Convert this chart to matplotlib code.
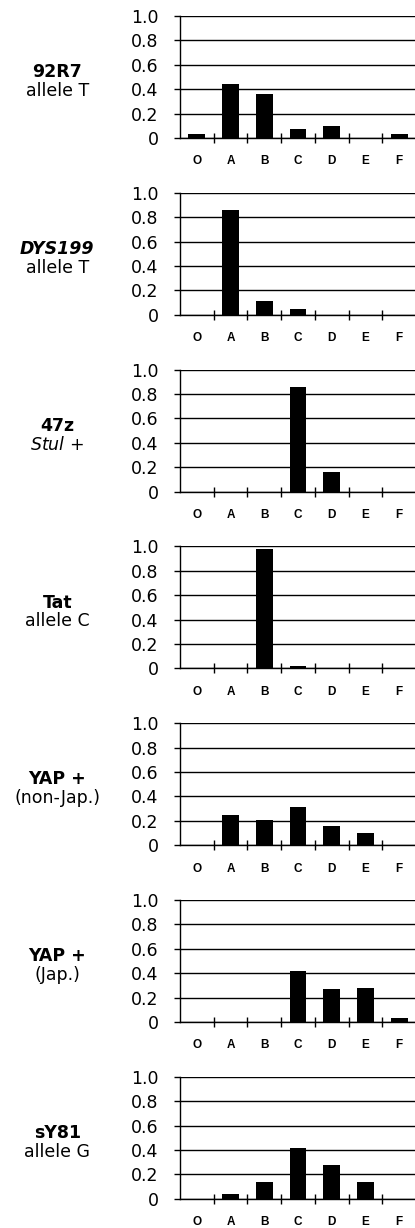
import matplotlib.pyplot as plt
import numpy as np

plt.rcParams['mathtext.fontset'] = 'custom'
plt.rcParams['mathtext.it'] = 'DejaVu Sans:italic'
plt.rcParams['mathtext.rm'] = 'DejaVu Sans'

categories = ["O", "A", "B", "C", "D", "E", "F"]

marker_names = ["92R7", "DYS199", "47z", "Tat", "YAP +", "YAP +", "sY81"]
marker_subs = ["allele T", "allele T", "$Stul$ +", "allele C", "(non-Jap.)", "(Jap.)", "allele G"]
marker_italic = [False, True, False, False, False, False, False]

freq_92r7 = [0.03, 0.44, 0.36, 0.07, 0.10, 0.0, 0.03]
freq_dys199 = [0.0, 0.86, 0.11, 0.05, 0.0, 0.0, 0.0]
freq_47z = [0.0, 0.0, 0.0, 0.86, 0.16, 0.0, 0.0]
freq_tat = [0.0, 0.0, 0.98, 0.02, 0.0, 0.0, 0.0]
freq_yap_nonjap = [0.0, 0.25, 0.21, 0.31, 0.16, 0.10, 0.0]
freq_yap_jap = [0.0, 0.0, 0.0, 0.42, 0.27, 0.28, 0.03]
freq_sy81 = [0.0, 0.04, 0.14, 0.42, 0.28, 0.14, 0.0]

panels = [freq_92r7, freq_dys199, freq_47z, freq_tat,
          freq_yap_nonjap, freq_yap_jap, freq_sy81]

W, H = 415, 1228
fig = plt.figure(figsize=(W / 100, H / 100), dpi=100)

x = np.arange(len(categories))
for i, vals in enumerate(panels):
    bottom_px = 138 + 176.8 * i
    ax = fig.add_axes([180 / W, 1 - bottom_px / H, 236 / W, 122 / H])
    ax.bar(x, vals, width=0.5, color="black", zorder=3)
    ax.set_xlim(-0.5, 6.5)
    ax.set_ylim(0, 1.0)
    ax.set_yticks([0, 0.2, 0.4, 0.6, 0.8, 1.0])
    ax.set_yticklabels(["0", "0.2", "0.4", "0.6", "0.8", "1.0"],
                       fontfamily="DejaVu Sans", fontsize=12.5)
    ax.yaxis.grid(True, color="black", linewidth=1)
    ax.set_axisbelow(True)
    ax.tick_params(axis="y", direction="out", length=4, width=1, pad=11.5, color="black")
    ax.set_xticks(x)
    ax.set_xticklabels(categories, fontfamily="Liberation Sans",
                       fontweight="bold", fontsize=8.5)
    ax.tick_params(axis="x", which="major", length=0, pad=12.5)
    ax.set_xticks(np.arange(0.5, 6, 1), minor=True)
    ax.tick_params(axis="x", which="minor", direction="inout", length=7, width=1)
    for s in ["top", "right"]:
        ax.spines[s].set_visible(False)
    for s in ["left", "bottom"]:
        ax.spines[s].set_linewidth(1)
        ax.spines[s].set_color("black")
    ax.spines["bottom"].set_zorder(4)

    ax.text(-0.52, 0.54, marker_names[i], transform=ax.transAxes,
            ha="center", va="center", fontfamily="DejaVu Sans", fontweight="bold",
            style="italic" if marker_italic[i] else "normal", fontsize=12.5)
    ax.text(-0.52, 0.385, marker_subs[i], transform=ax.transAxes,
            ha="center", va="center", fontfamily="DejaVu Sans", fontsize=12.5)

fig.savefig("out.png", dpi=100)
